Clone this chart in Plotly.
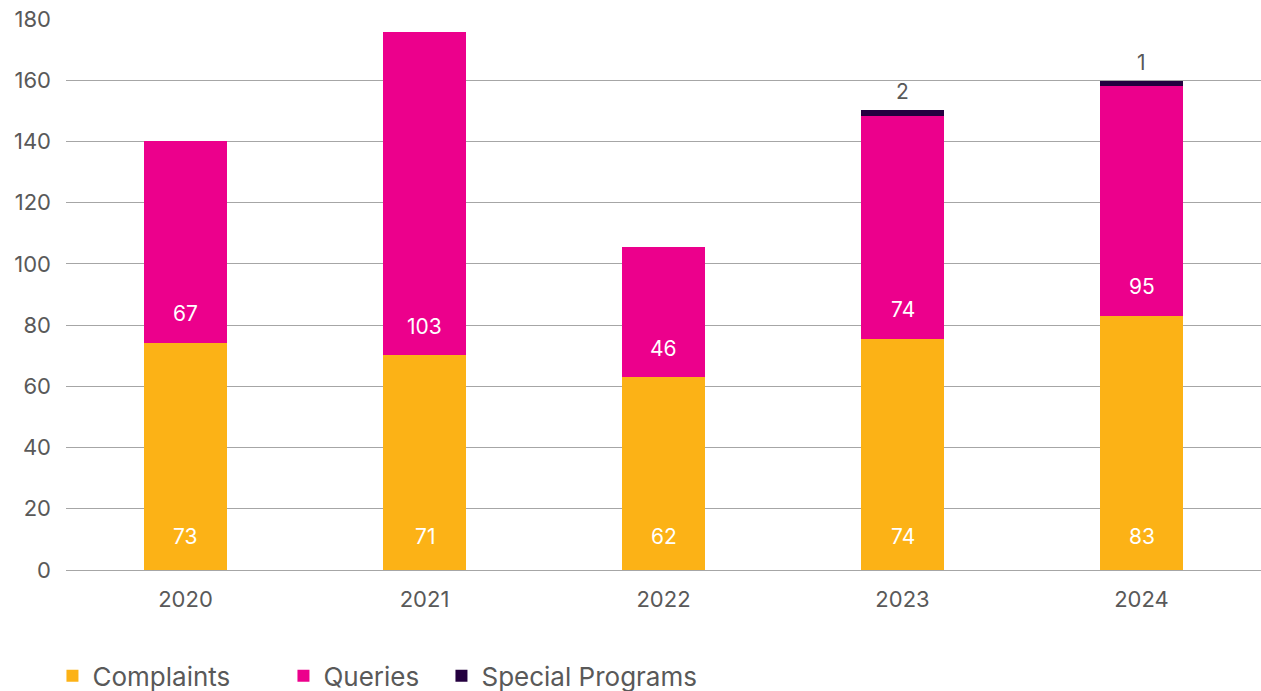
import plotly.graph_objects as go

years = ["2020", "2021", "2022", "2023", "2024"]

# bar heights as drawn in the reference
complaints = [74.3, 70.1, 62.9, 75.6, 83.1]
queries = [65.9, 105.7, 42.7, 72.8, 75.0]
special = [0, 0, 0, 1.9, 1.7]

# data labels as printed in the reference
complaints_labels = ["73", "71", "62", "74", "83"]
queries_labels = ["67", "103", "46", "74", "95"]
special_labels = ["", "", "", "2", "1"]

C_COMP = "#FCB216"
C_QUER = "#EC008C"
C_SPEC = "#24003F"
GREY = "#595959"
FONT = "Inter, Lato, sans-serif"

fig = go.Figure()
fig.add_trace(go.Bar(name="Complaints", x=years, y=complaints, marker_color=C_COMP,
                     marker_line_width=0, legendwidth=186))
fig.add_trace(go.Bar(name="Queries", x=years, y=queries, marker_color=C_QUER,
                     marker_line_width=0, legendwidth=113))
fig.add_trace(go.Bar(name="Special Programs", x=years, y=special, marker_color=C_SPEC,
                     marker_line_width=0))

annotations = []
for i, yr in enumerate(years):
    annotations.append(dict(x=i, y=0, text=complaints_labels[i], showarrow=False,
                            yanchor="middle", yshift=34,
                            font=dict(color="white", size=21, family=FONT)))
    annotations.append(dict(x=i, y=complaints[i], text=queries_labels[i], showarrow=False,
                            yanchor="middle", yshift=29,
                            font=dict(color="white", size=21, family=FONT)))
    if special_labels[i]:
        top = complaints[i] + queries[i] + special[i]
        annotations.append(dict(x=i, y=top, text=special_labels[i], showarrow=False,
                                yanchor="middle", yshift=18,
                                font=dict(color=GREY, size=21, family=FONT)))

fig.update_layout(
    barmode="stack",
    bargap=0.653,
    width=1261, height=691,
    margin=dict(l=66, r=0, t=18, b=121, autoexpand=False),
    plot_bgcolor="white", paper_bgcolor="white",
    font=dict(family=FONT, color=GREY, size=22),
    annotations=annotations,
    legend=dict(orientation="h", xref="container", yref="container",
                x=0.0416, y=0.022, xanchor="left", yanchor="middle",
                font=dict(size=26, color=GREY, family=FONT),
                traceorder="normal"),
    xaxis=dict(type="category", categoryorder="array", categoryarray=years,
               range=[-0.5, len(years) - 0.5],
               showgrid=False, showline=False, ticks="", ticklabelstandoff=14,
               automargin=False, tickfont=dict(size=22, color=GREY)),
    yaxis=dict(range=[0, 180.3], dtick=20, showgrid=True, gridcolor="#a6a6a6", gridwidth=1.3,
               zeroline=True, zerolinecolor="#a6a6a6", zerolinewidth=1.3,
               showline=False, ticks="", ticklabelstandoff=14, automargin=False,
               tickfont=dict(size=22, color=GREY)),
)

fig.write_html("out.html", config={"displayModeBar": False},
               post_script="document.body.style.margin='0';")
